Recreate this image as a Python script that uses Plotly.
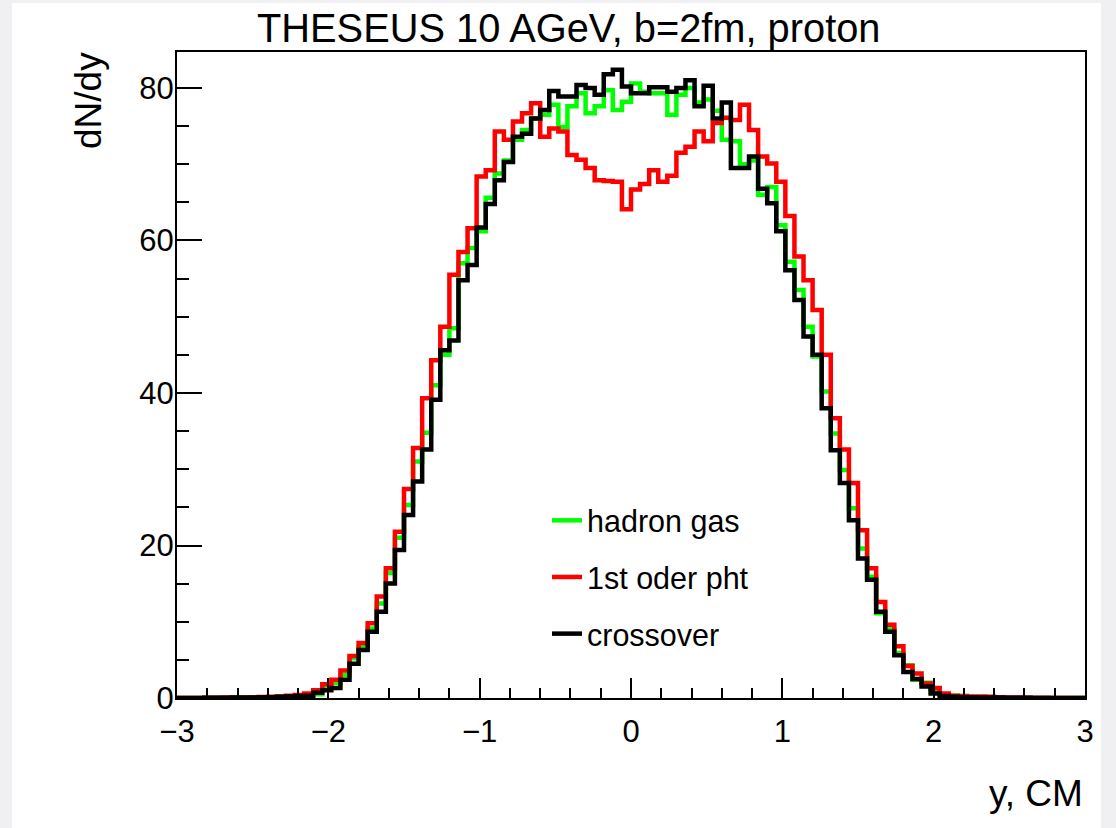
import numpy as np
import plotly.graph_objects as go

# Rapidity binning of the histograms
y_low, y_high, n_bins = -3.0, 3.0, 100

# dN/dy per bin (100 bins from y=-3 to y=3)
hadron_gas = [
    0.0, 0.0, 0.0, 0.02, 0.02, 0.03, 0.05, 0.05, 0.08, 0.1,
    0.1, 0.15, 0.2, 0.3, 0.35, 0.5, 1.5, 2.0, 3.0, 5.2,
    6.7, 9.1, 12.4, 16.4, 21.0, 25.3, 31.0, 34.8, 41.0, 45.0,
    48.5, 57.0, 59.0, 61.2, 65.6, 68.8, 70.5, 73.2, 74.5, 76.0,
    76.5, 77.8, 74.9, 77.6, 79.3, 76.7, 77.6, 79.7, 77.1, 78.2,
    80.6, 79.5, 79.3, 79.3, 76.5, 79.1, 80.0, 78.1, 78.5, 77.0,
    73.2, 73.0, 70.0, 70.5, 66.0, 67.0, 62.0, 57.2, 53.5, 48.7,
    44.8, 40.2, 34.7, 29.9, 24.9, 19.6, 15.9, 11.1, 9.0, 5.9,
    4.3, 2.4, 2.0, 0.8, 0.3, 0.3, 0.2, 0.1, 0.08, 0.05,
    0.05, 0.03, 0.02, 0.02, 0.0, 0.0, 0.0, 0.0, 0.0, 0.0,
]

first_order = [
    0.0, 0.0, 0.0, 0.02, 0.03, 0.05, 0.05, 0.08, 0.1, 0.12,
    0.15, 0.2, 0.3, 0.4, 0.6, 1.0, 1.8, 2.4, 3.6, 5.5,
    7.2, 9.8, 13.3, 17.0, 21.8, 27.4, 32.8, 39.3, 44.3, 48.7,
    55.5, 58.5, 61.6, 68.4, 69.2, 74.3, 73.2, 75.6, 76.7, 78.0,
    73.6, 74.7, 74.3, 71.2, 70.6, 69.5, 67.9, 67.8, 67.7, 64.1,
    66.7, 67.4, 69.2, 67.7, 68.5, 71.5, 72.3, 74.3, 73.0, 75.4,
    76.1, 75.8, 77.8, 74.5, 71.0, 70.1, 67.7, 63.2, 57.9, 54.8,
    50.9, 45.0, 36.7, 32.6, 28.2, 22.0, 17.0, 12.6, 9.6, 6.8,
    4.2, 3.2, 1.9, 1.3, 0.6, 0.3, 0.25, 0.2, 0.2, 0.15,
    0.1, 0.05, 0.05, 0.03, 0.02, 0.02, 0.0, 0.0, 0.0, 0.0,
]

crossover = [
    0.0, 0.0, 0.0, 0.02, 0.02, 0.03, 0.05, 0.05, 0.08, 0.1,
    0.1, 0.15, 0.2, 0.25, 0.3, 0.7, 1.0, 1.3, 2.4, 4.5,
    6.3, 8.7, 11.3, 15.0, 19.4, 24.0, 28.4, 32.6, 39.1, 45.6,
    46.9, 54.8, 56.8, 61.7, 64.8, 67.9, 70.3, 73.6, 74.0, 76.0,
    77.1, 79.6, 78.9, 78.9, 80.4, 80.0, 79.1, 81.8, 82.4, 80.2,
    79.3, 79.3, 80.1, 80.1, 79.5, 80.0, 81.0, 77.6, 80.3, 76.0,
    78.1, 69.5, 69.5, 71.0, 66.8, 64.9, 61.2, 56.1, 52.2, 47.4,
    45.0, 38.0, 32.5, 28.2, 23.3, 18.3, 15.5, 11.3, 8.7, 5.6,
    3.4, 2.5, 1.5, 0.6, 0.25, 0.15, 0.1, 0.1, 0.08, 0.05,
    0.05, 0.03, 0.02, 0.02, 0.0, 0.0, 0.0, 0.0, 0.0, 0.0,
]

series_names = ["hadron gas", "1st oder pht", "crossover"]
series_colors = ["#00ff00", "#ff0000", "#000000"]

edges = np.linspace(y_low, y_high, n_bins + 1)

FONT = "Liberation Sans, Arial, Helvetica, sans-serif"

fig = go.Figure()
for name, vals, color in zip(series_names, [hadron_gas, first_order, crossover], series_colors):
    # staircase: each bin drawn flat from its low edge to its high edge
    yy = list(vals) + [vals[-1]]
    fig.add_trace(go.Scatter(
        x=edges, y=yy, mode="lines", name=name, legendgroup=name,
        line=dict(color=color, width=4.5, shape="hv"),
        hoverinfo="skip",
    ))

# plot-area pixel geometry helpers (figure is 1116 x 828)
L, R, T, B = 177, 1085, 52, 698
def px_x(p):
    return (p - L) / (R - L)
def px_y(p):
    return (B - p) / (B - T)

fig.update_layout(
    width=1116, height=828,
    margin=dict(l=L, r=1116 - R, t=T, b=828 - B, pad=0),
    paper_bgcolor="#f0f0f2",
    plot_bgcolor="white",
    font=dict(family=FONT, color="black"),
    showlegend=True,
    legend=dict(
        x=px_x(547), y=px_y(494), xanchor="left", yanchor="top",
        bgcolor="rgba(0,0,0,0)", borderwidth=0,
        font=dict(size=30.5, family=FONT, color="black"),
        tracegroupgap=14, traceorder="grouped",
    ),
    shapes=[dict(
        type="rect", xref="paper", yref="paper", layer="below",
        x0=px_x(12), x1=px_x(1101), y0=px_y(828), y1=px_y(3),
        fillcolor="white", line=dict(width=0),
    )],
    annotations=[
        dict(text="THESEUS 10 AGeV, b=2fm, proton", xref="paper", yref="paper",
             x=px_x(568), y=px_y(28), xanchor="center", yanchor="middle",
             showarrow=False, font=dict(size=39.8, family=FONT, color="black")),
        dict(text="dN/dy", xref="paper", yref="paper", textangle=-90,
             x=px_x(88), y=px_y(101), xanchor="center", yanchor="middle",
             showarrow=False, font=dict(size=37, family=FONT, color="black")),
        dict(text="y, CM", xref="paper", yref="paper",
             x=px_x(1085), y=px_y(793), xanchor="right", yanchor="middle",
             showarrow=False, font=dict(size=37, family=FONT, color="black")),
    ],
)

fig.update_xaxes(
    range=[y_low, y_high], tickmode="array", tickvals=[-3, -2, -1, 0, 1, 2, 3],
    ticks="inside", ticklen=20, tickwidth=1.5, tickcolor="black",
    minor=dict(ticks="inside", ticklen=10, dtick=0.2, tick0=-3, tickwidth=1.5, tickcolor="black"),
    showline=True, linecolor="black", linewidth=2, mirror=True,
    showgrid=False, zeroline=False,
    tickfont=dict(size=31, family=FONT, color="black"),
    ticklabelstandoff=5,
)
fig.update_yaxes(
    range=[0, 84.72], tickmode="array", tickvals=[0, 20, 40, 60, 80],
    ticks="inside", ticklen=25, tickwidth=1.5, tickcolor="black",
    minor=dict(ticks="inside", ticklen=12, dtick=5, tick0=0, tickwidth=1.5, tickcolor="black"),
    showline=True, linecolor="black", linewidth=2, mirror=True,
    showgrid=False, zeroline=False,
    tickfont=dict(size=31, family=FONT, color="black"),
    ticklabelstandoff=-5,
)

fig.write_html("out.html")
